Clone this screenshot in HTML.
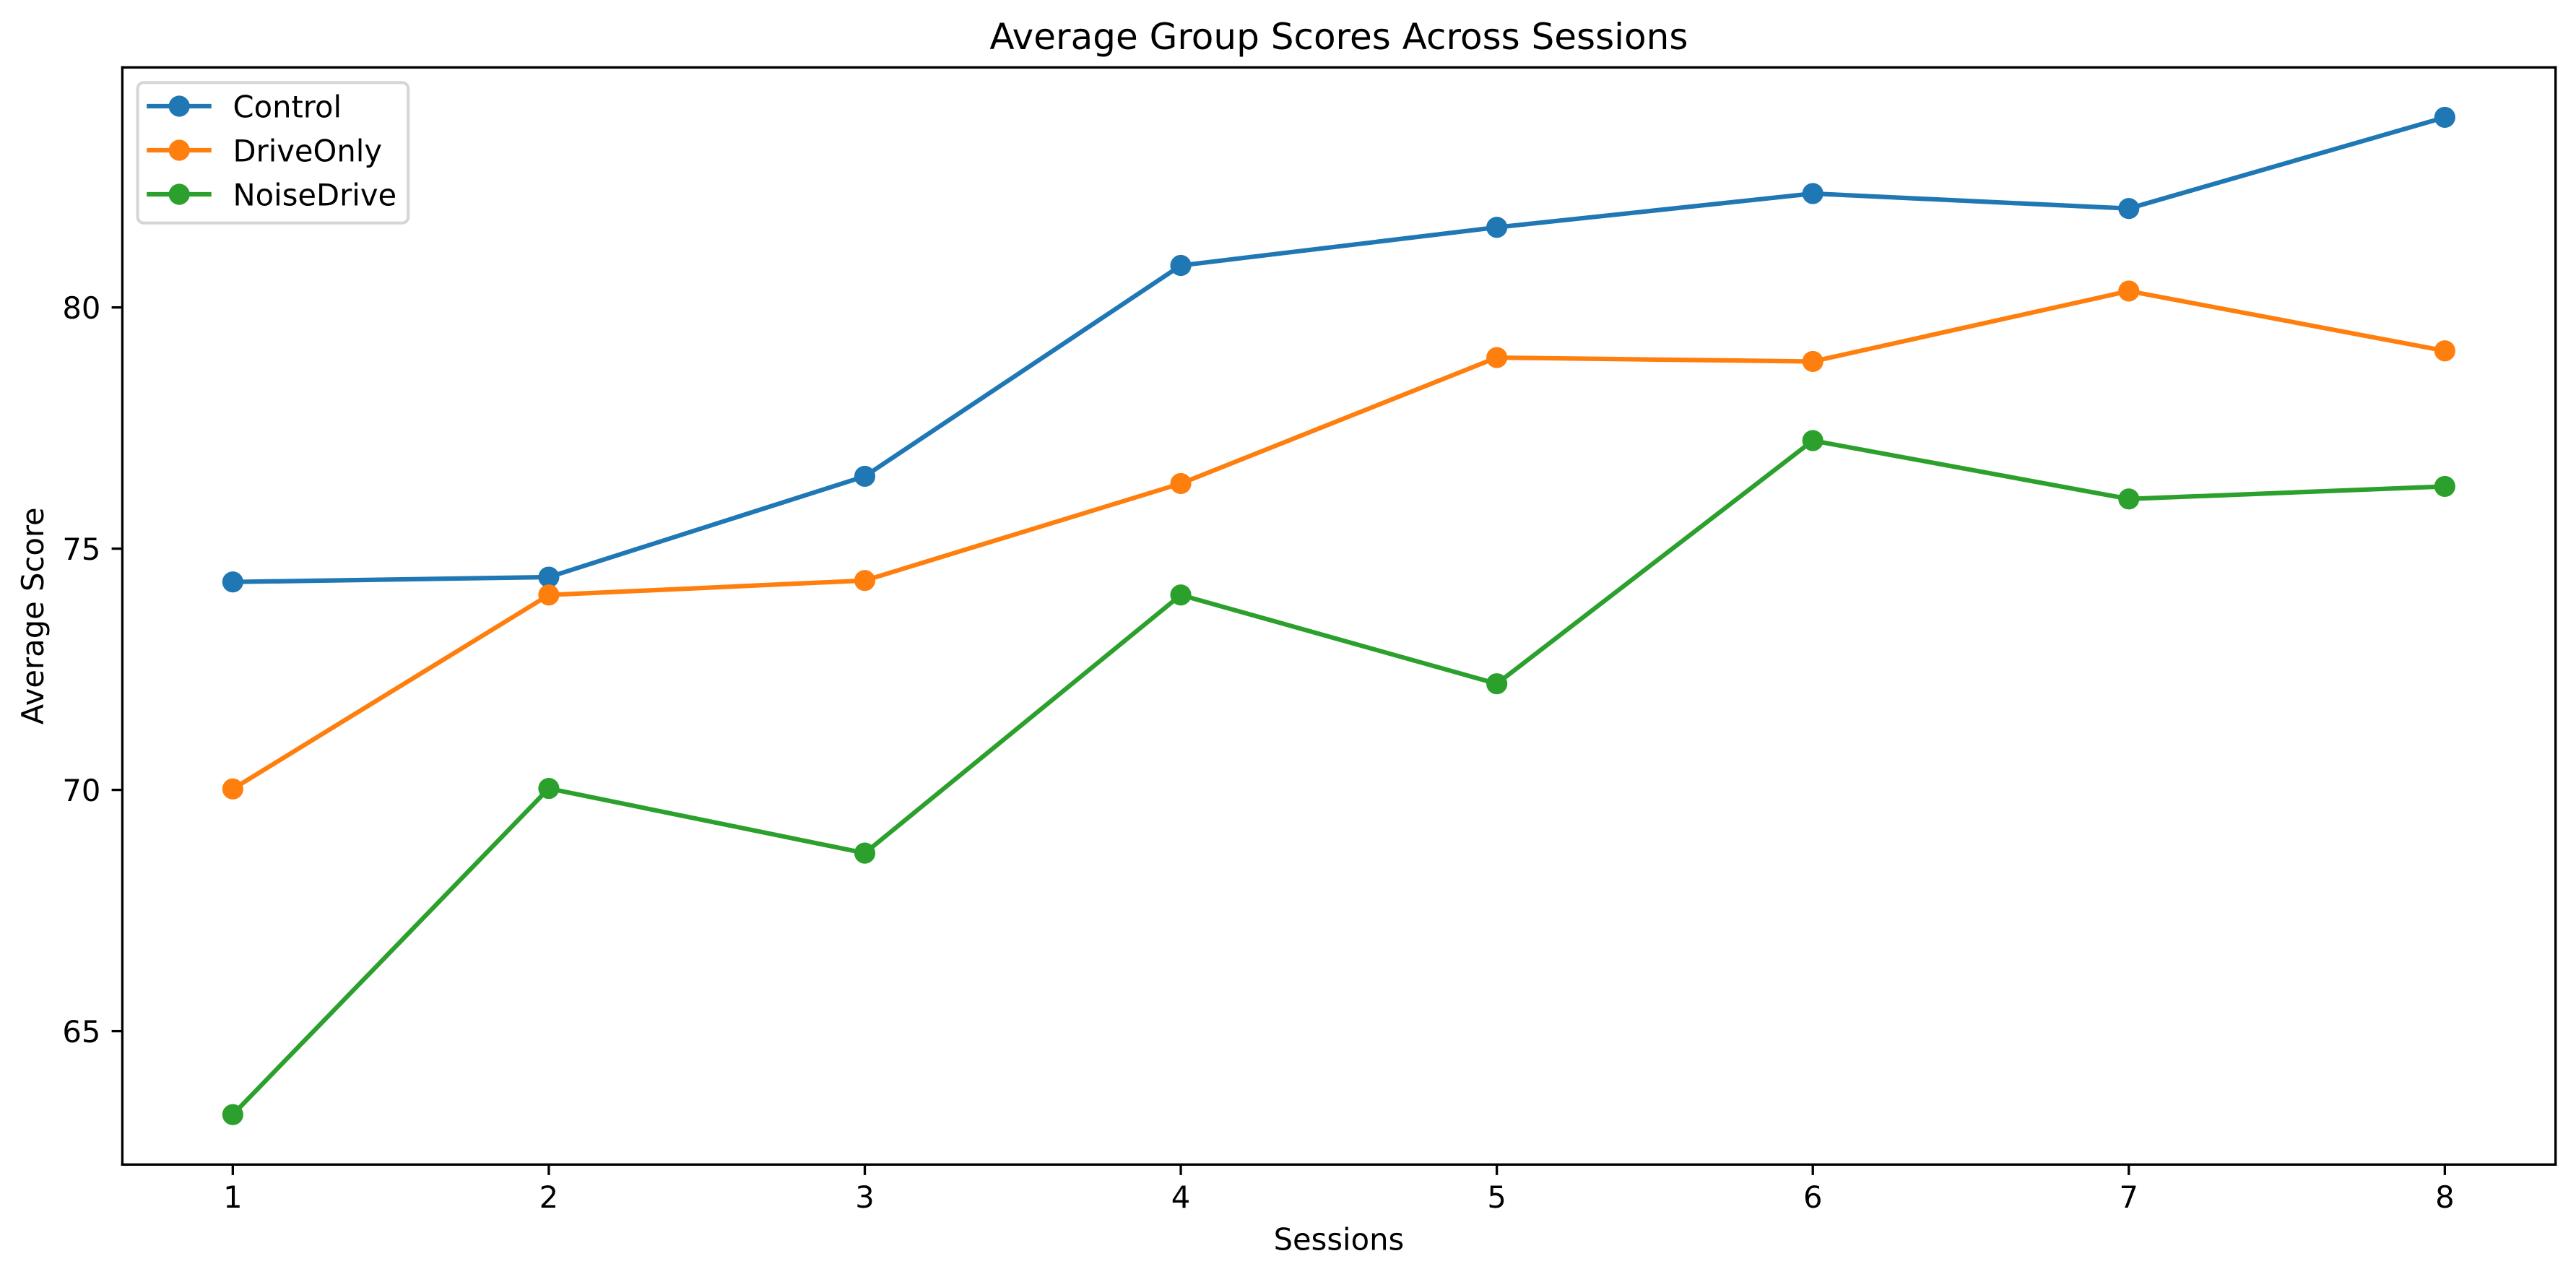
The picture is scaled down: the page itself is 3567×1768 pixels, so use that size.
<!DOCTYPE html>
<html lang="en">
<head>
<meta charset="utf-8">
<title>Average Group Scores Across Sessions</title>
<style>
  html, body { margin: 0; padding: 0; background: #ffffff; }
  svg { display: block; }
  text { font-family: "DejaVu Sans", "Liberation Sans", sans-serif; fill: #000000; }
</style>
</head>
<body>
<svg id="chart" xmlns="http://www.w3.org/2000/svg" width="3567" height="1768" viewBox="0 0 3567 1768">
  <rect x="0" y="0" width="3567" height="1768" fill="#ffffff"/>
  <text x="1853.9" y="68" font-size="50" text-anchor="middle">Average Group Scores Across Sessions</text>
  <text x="1853.9" y="1730.5" font-size="41.67" text-anchor="middle">Sessions</text>
  <text x="0" y="0" font-size="41.67" text-anchor="middle" transform="translate(60 852.8) rotate(-90)">Average Score</text>
  <g id="x-ticks"></g>
  <g id="y-ticks"></g>
  <g id="series"></g>
  <g fill="none" stroke="#000000" stroke-width="3.33" stroke-linecap="square">
    <line x1="169.4" y1="93.3" x2="169.4" y2="1612.3"/>
    <line x1="3538.7" y1="93.3" x2="3538.7" y2="1612.3"/>
    <line x1="169.4" y1="93.3" x2="3538.7" y2="93.3"/>
    <line x1="169.4" y1="1612.3" x2="3538.7" y2="1612.3"/>
  </g>
  <g>
    <rect x="190.6" y="114.3" width="374.6" height="194.4" rx="8.3" ry="8.3" fill="#ffffff" fill-opacity="0.8" stroke="#d6d6d6" stroke-width="4.17"/>
    <g>
      <line x1="206.3" y1="147" x2="289.6" y2="147" stroke="#1f77b4" stroke-width="6.25" stroke-linecap="square"/>
      <circle cx="248.2" cy="147" r="14.58" fill="#1f77b4"/>
      <text x="322.5" y="162.5" font-size="41.67">Control</text>
    </g>
    <g>
      <line x1="206.3" y1="208" x2="289.6" y2="208" stroke="#ff7f0e" stroke-width="6.25" stroke-linecap="square"/>
      <circle cx="248.2" cy="208" r="14.58" fill="#ff7f0e"/>
      <text x="322.5" y="223.5" font-size="41.67">DriveOnly</text>
    </g>
    <g>
      <line x1="206.3" y1="269" x2="289.6" y2="269" stroke="#2ca02c" stroke-width="6.25" stroke-linecap="square"/>
      <circle cx="248.2" cy="269" r="14.58" fill="#2ca02c"/>
      <text x="322.5" y="284.5" font-size="41.67">NoiseDrive</text>
    </g>
  </g>
</svg>
<script>
const sessions = [1, 2, 3, 4, 5, 6, 7, 8];
const control = [74.31, 74.41, 76.50, 80.87, 81.66, 82.36, 82.05, 83.94];
const driveOnly = [70.02, 74.04, 74.34, 76.35, 78.96, 78.88, 80.34, 79.10];
const noiseDrive = [63.27, 70.03, 68.69, 74.04, 72.20, 77.24, 76.03, 76.29];
const xTickValues = [1, 2, 3, 4, 5, 6, 7, 8];
const yTickValues = [65, 70, 75, 80];

const SVG_NS = 'http://www.w3.org/2000/svg';
const PLOT = { left: 169.2, right: 3538.5, top: 93.3, bottom: 1612.3 };
const X_DOMAIN = [0.65, 8.35];
const Y_DOMAIN = [62.235, 84.975];

function xScale(v) {
  return PLOT.left + (v - X_DOMAIN[0]) / (X_DOMAIN[1] - X_DOMAIN[0]) * (PLOT.right - PLOT.left);
}
function yScale(v) {
  return PLOT.bottom - (v - Y_DOMAIN[0]) / (Y_DOMAIN[1] - Y_DOMAIN[0]) * (PLOT.bottom - PLOT.top);
}
function make(tag, parent) {
  const el = document.createElementNS(SVG_NS, tag);
  parent.appendChild(el);
  return el;
}

const xTickGroup = document.getElementById('x-ticks');
xTickValues.forEach(function (t) {
  const x = xScale(t);
  const tick = make('line', xTickGroup);
  
  
  tick.setAttribute('x1', x);
  tick.setAttribute('x2', x);
  tick.setAttribute('y1', PLOT.bottom);
  tick.setAttribute('y2', PLOT.bottom + 14.6);
  tick.setAttribute('stroke', '#000000');
  tick.setAttribute('stroke-width', '3.33');
  const label = make('text', xTickGroup);
  
  
  label.setAttribute('x', x);
  label.setAttribute('y', 1672);
  label.setAttribute('font-size', '41.67');
  label.setAttribute('text-anchor', 'middle');
  label.textContent = String(t);
});

const yTickGroup = document.getElementById('y-ticks');
yTickValues.forEach(function (t) {
  const y = yScale(t);
  const tick = make('line', yTickGroup);
  
  
  tick.setAttribute('x1', PLOT.left - 14.6);
  tick.setAttribute('x2', PLOT.left);
  tick.setAttribute('y1', y);
  tick.setAttribute('y2', y);
  tick.setAttribute('stroke', '#000000');
  tick.setAttribute('stroke-width', '3.33');
  const label = make('text', yTickGroup);
  
  
  label.setAttribute('x', 139.4);
  label.setAttribute('y', y + 15.2);
  label.setAttribute('font-size', '41.67');
  label.setAttribute('text-anchor', 'end');
  label.textContent = String(t);
});

const seriesGroup = document.getElementById('series');
function drawSeries(slug, values, color) {
  const group = make('g', seriesGroup);
  
  
  const line = make('polyline', group);
  
  
  line.setAttribute('points', values.map(function (v, i) {
    return xScale(sessions[i]).toFixed(2) + ',' + yScale(v).toFixed(2);
  }).join(' '));
  line.setAttribute('fill', 'none');
  line.setAttribute('stroke', color);
  line.setAttribute('stroke-width', '6.25');
  line.setAttribute('stroke-linejoin', 'round');
  line.setAttribute('stroke-linecap', 'square');
  values.forEach(function (v, i) {
    const point = make('circle', group);
    
    
    point.setAttribute('cx', xScale(sessions[i]).toFixed(2));
    point.setAttribute('cy', yScale(v).toFixed(2));
    point.setAttribute('r', '14.58');
    point.setAttribute('fill', color);
  });
}
drawSeries('control', control, '#1f77b4');
drawSeries('driveonly', driveOnly, '#ff7f0e');
drawSeries('noisedrive', noiseDrive, '#2ca02c');
</script>
</body>
</html>
